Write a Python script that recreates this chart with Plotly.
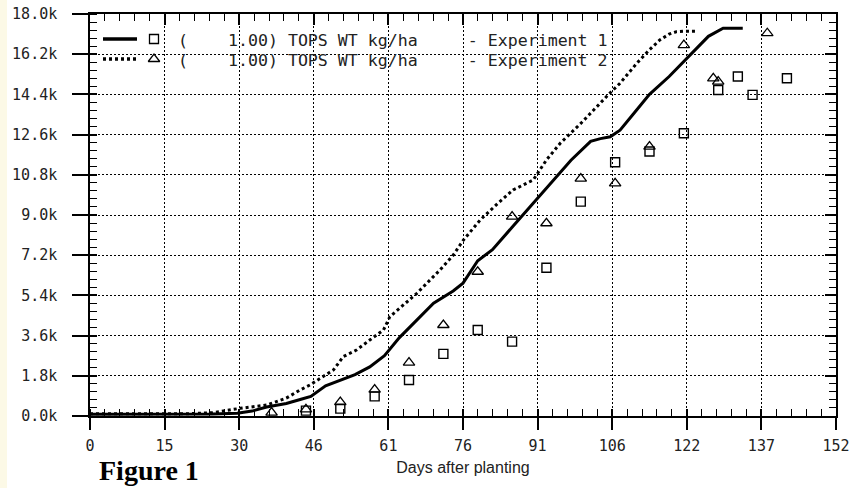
import plotly.graph_objects as go

# ---------------- data ----------------
sim1_days = [0, 10, 20, 25, 30, 33, 36, 40, 43, 45, 48, 51, 54, 57, 60, 63, 66, 70, 74, 76,
             79, 82, 86, 90, 94, 98, 102, 104, 106, 108, 111, 114, 118, 122, 126, 129, 133]
sim1_vals = [80, 80, 80, 90, 120, 220, 400, 560, 750, 880, 1350, 1600, 1850, 2200, 2700, 3500,
             4150, 5050, 5600, 5950, 6950, 7450, 8450, 9450, 10500, 11450, 12300, 12420, 12500,
             12800, 13600, 14400, 15200, 16100, 17000, 17360, 17360]

sim2_days = [0, 10, 20, 25, 30.6, 36, 40, 42.8, 44.8, 47, 49.6, 51.6, 54.3, 57, 59.8, 61.1, 63,
             66.6, 71.3, 74, 76.1, 79.5, 83, 86.2, 90.3, 93, 95.8, 100, 105.9, 108, 111.4, 114,
             116.1, 118, 119.5, 121, 123.6]
sim2_vals = [100, 100, 100, 150, 343, 492, 800, 1164, 1388, 1700, 2060, 2657, 2955, 3400, 3851,
             4448, 4800, 5493, 6538, 7200, 7881, 8777, 9500, 10120, 10568, 11464, 12210, 13100,
             14451, 14900, 15790, 16400, 16836, 17100, 17209, 17230, 17230]

obs1_days = [44, 51, 58, 65, 72, 79, 86, 93, 100, 107, 114, 121, 128, 132, 135, 142]
obs1_vals = [240, 330, 880, 1610, 2780, 3850, 3330, 6640, 9600, 11360, 11840, 12660, 14600,
             15200, 14380, 15120]

obs2_days = [37, 44, 51, 58, 65, 72, 79, 86, 93, 100, 107, 114, 121, 127, 128, 138]
obs2_vals = [150, 300, 620, 1180, 2390, 4075, 6460, 8925, 8630, 10630, 10420, 12060, 16610,
             15120, 14970, 17140]

x_tick_labels = ["0", "15", "30", "46", "61", "76", "91", "106", "122", "137", "152"]
y_tick_labels = ["0.0k", "1.8k", "3.6k", "5.4k", "7.2k", "9.0k", "10.8k", "12.6k", "14.4k",
                 "16.2k", "18.0k"]
legend_texts = ["(    1.00) TOPS WT kg/ha     - Experiment 1",
                "(    1.00) TOPS WT kg/ha     - Experiment 2"]
x_title = "Days after planting"
fig_caption = "Figure 1"

# ---------------- layout helpers ----------------
X_MAX, Y_MAX = 152, 18000
x_major = [i * X_MAX / 10 for i in range(11)]
x_minor = [i * X_MAX / 50 for i in range(51)]
y_major = [i * Y_MAX / 10 for i in range(11)]
y_minor = [i * Y_MAX / 50 for i in range(51)]

W, H = 852, 488
ML, MR, MT, MB = 90, 16, 14, 72
PW, PH = W - ML - MR, H - MT - MB


def px(xp):
    return (xp - ML) / PW


def py(yp):
    return (H - MB - yp) / PH


TICK_FONT = dict(family="DejaVu Sans Mono", size=15, color="#222222")

fig = go.Figure()

fig.add_trace(go.Scatter(x=sim1_days, y=sim1_vals, mode="lines",
                         line=dict(color="black", width=3), showlegend=False))
fig.add_trace(go.Scatter(x=sim2_days, y=sim2_vals, mode="lines",
                         line=dict(color="black", width=3, dash="3px,3px"), showlegend=False))
fig.add_trace(go.Scatter(x=obs1_days, y=obs1_vals, mode="markers",
                         marker=dict(symbol="square-open", size=9, color="black",
                                     line=dict(width=1.4, color="black")),
                         showlegend=False))
fig.add_trace(go.Scatter(x=obs2_days, y=obs2_vals, mode="markers",
                         marker=dict(symbol="triangle-up-open", size=10, color="black",
                                     line=dict(width=1.3, color="black")),
                         showlegend=False))
# empty traces to host the extra tick-only axes
fig.add_trace(go.Scatter(x=[], y=[], xaxis="x2", yaxis="y2", showlegend=False,
                         hoverinfo="skip"))
fig.add_trace(go.Scatter(x=[], y=[], xaxis="x3", yaxis="y3", showlegend=False,
                         hoverinfo="skip"))

grid = dict(showgrid=True, gridcolor="black", gridwidth=1.3, griddash="2px,2px")
minor_x = dict(tickmode="array", tickvals=x_minor, ticks="inside", ticklen=7,
               tickwidth=1.2, tickcolor="black", showgrid=False)
minor_y = dict(tickmode="array", tickvals=y_minor, ticks="inside", ticklen=7,
               tickwidth=1.2, tickcolor="black", showgrid=False)
tick_only = dict(ticks="inside", tickwidth=1.5, tickcolor="black", showticklabels=False,
                 showgrid=False, zeroline=False, showline=False, automargin=False,
                 tickmode="array")

fig.update_layout(
    width=W, height=H, showlegend=False,
    margin=dict(l=ML, r=MR, t=MT, b=MB, pad=0),
    paper_bgcolor="white", plot_bgcolor="white",
    xaxis=dict(range=[0, X_MAX], tickmode="array", tickvals=x_major, ticktext=x_tick_labels,
               ticks="outside", ticklen=12, tickwidth=1.5, tickcolor="black",
               showline=True, linecolor="black", linewidth=1.5, mirror=True,
               zeroline=False, tickfont=TICK_FONT, ticklabelstandoff=3, automargin=False,
               minor=minor_x,
               title=dict(text=x_title, standoff=8,
                          font=dict(family="Liberation Sans", size=16, color="#222222")),
               **grid),
    yaxis=dict(range=[0, Y_MAX], tickmode="array", tickvals=y_major, ticktext=y_tick_labels,
               ticks="outside", ticklen=16, tickwidth=1.5, tickcolor="black",
               showline=True, linecolor="black", linewidth=1.5, mirror=True,
               zeroline=False, tickfont=TICK_FONT, ticklabelstandoff=12, automargin=False,
               minor=minor_y, **grid),
    xaxis2=dict(range=[0, X_MAX], overlaying="x", anchor="y", side="top",
                tickvals=x_major, ticklen=11, minor=minor_x, **tick_only),
    yaxis2=dict(range=[0, Y_MAX], overlaying="y", anchor="x", side="right",
                tickvals=y_major, ticklen=11, minor=minor_y, **tick_only),
    # inner halves of the crossing major ticks on the bottom and left axes
    xaxis3=dict(range=[0, X_MAX], overlaying="x", anchor="y", side="bottom",
                tickvals=x_major, ticklen=7, **tick_only),
    yaxis3=dict(range=[0, Y_MAX], overlaying="y", anchor="x", side="left",
                tickvals=y_major, ticklen=7, **tick_only),
)

# pale strip at the left edge of the scanned figure
fig.add_shape(type="rect", xref="paper", yref="paper", x0=px(0), x1=px(7), y0=py(H), y1=py(0),
              fillcolor="#fcf9e6", line=dict(width=0), layer="below")

# custom legend (line sample, marker sample, text)
legend_rows = [(39, "solid", "square-open", 9), (59, "3px,3px", "triangle-up-open", 10)]
for (ypix, dash, sym, msize), txt in zip(legend_rows, legend_texts):
    fig.add_shape(type="line", xref="paper", yref="paper", x0=px(103), x1=px(137),
                  y0=py(ypix), y1=py(ypix), line=dict(color="black", width=3.5, dash=dash))
    fig.add_trace(go.Scatter(x=[px(154) * X_MAX], y=[py(ypix) * Y_MAX], mode="markers",
                             showlegend=False, hoverinfo="skip",
                             marker=dict(symbol=sym, size=msize, color="black",
                                         line=dict(width=1.3, color="black"))))
    fig.add_annotation(xref="paper", yref="paper", x=px(176), y=py(ypix + 1),
                       xanchor="left", yanchor="middle", showarrow=False,
                       text=txt.replace(" ", "\u00a0"),
                       font=dict(family="DejaVu Sans Mono", size=16.6, color="#222222"))

fig.add_annotation(xref="paper", yref="paper", x=px(97), y=py(H), xanchor="left",
                   yanchor="bottom", showarrow=False, text="<b>" + fig_caption + "</b>",
                   font=dict(family="Liberation Serif", size=28, color="black"))

fig.write_html("out.html")
